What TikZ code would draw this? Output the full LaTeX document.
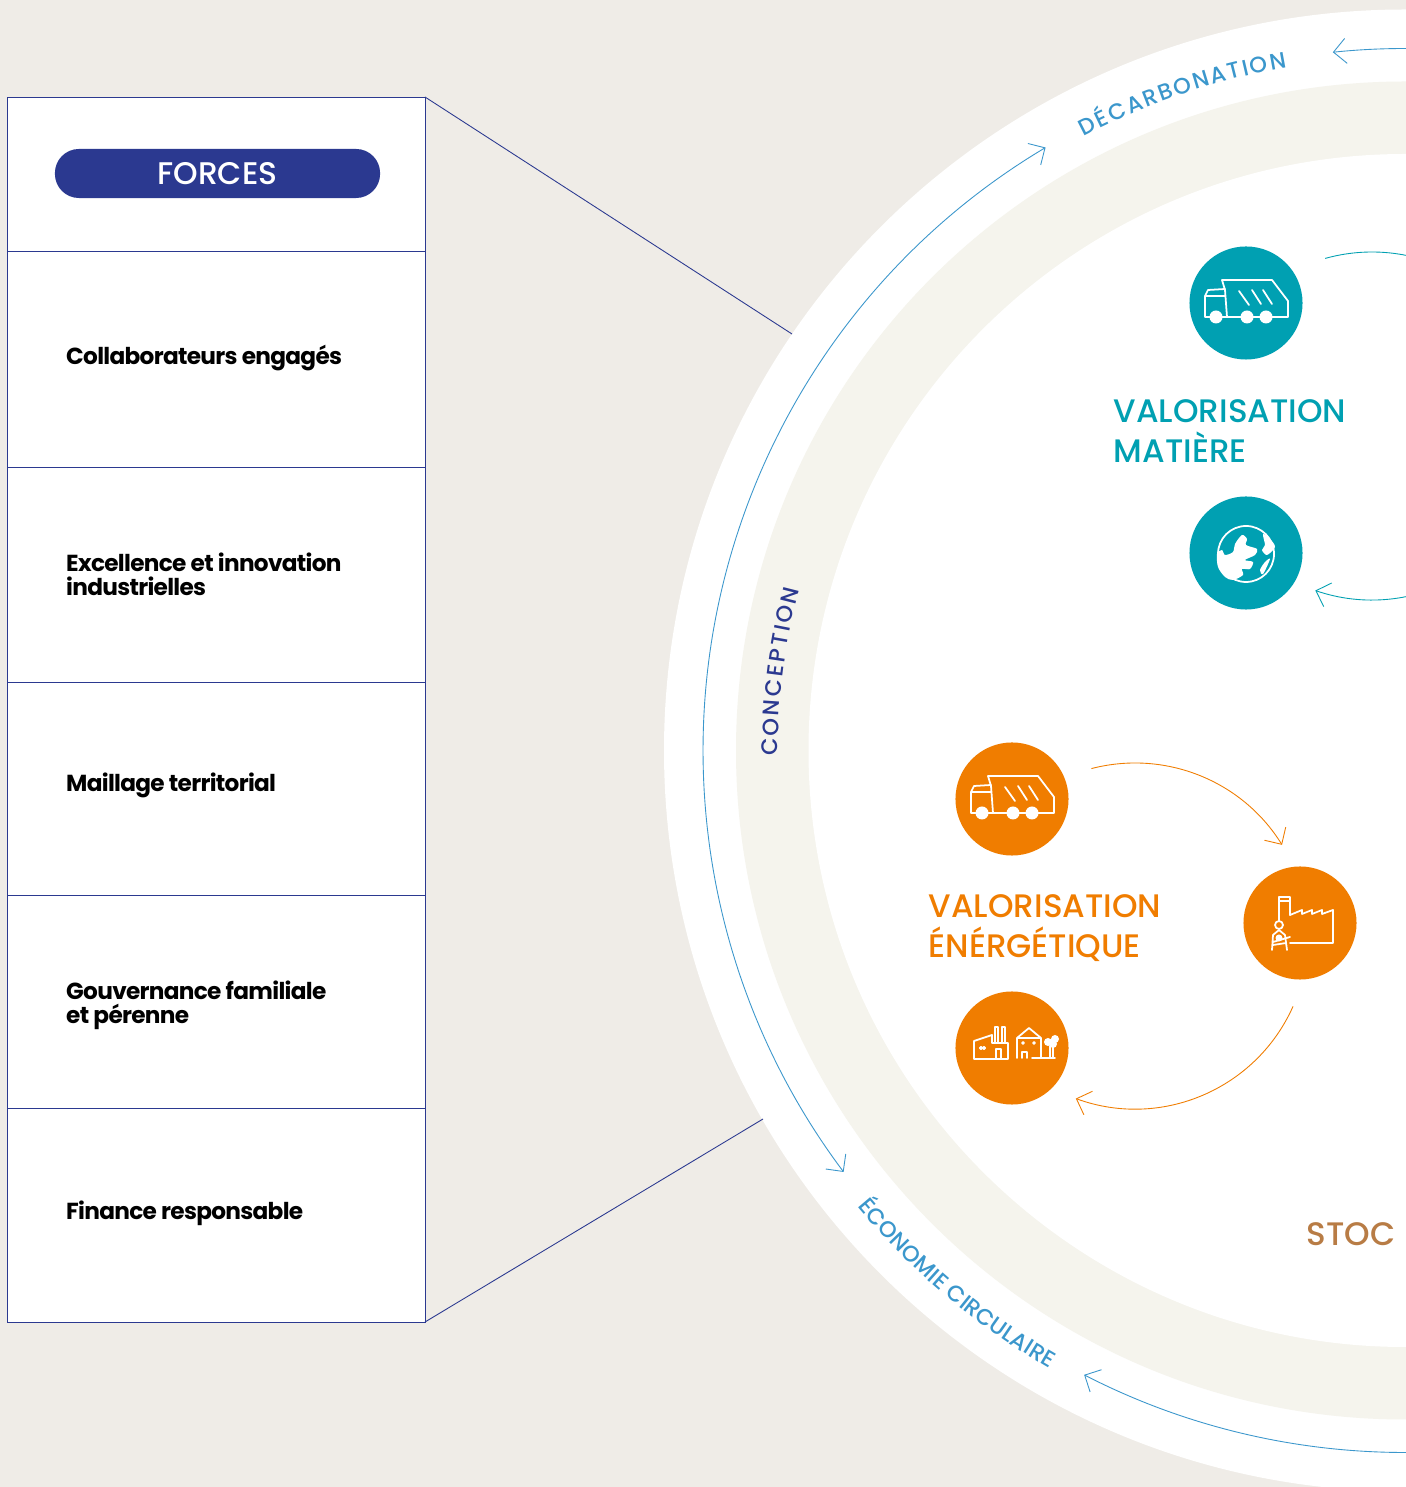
\documentclass[tikz,border=0pt]{standalone}
\usepackage{fontspec}
\setmainfont{Poppins}
\newfontfamily\mediumfont{Poppins Medium}
\newfontfamily\cellface[LetterSpace=-3]{Poppins}
\usetikzlibrary{arrows.meta, decorations.text}
\definecolor{bgcol}{HTML}{EFECE7}
\definecolor{ringcol}{HTML}{F5F4ED}
\definecolor{navycol}{HTML}{2B3990}
\definecolor{bluecol}{HTML}{3B97CC}
\definecolor{tealcol}{HTML}{00A0B2}
\definecolor{orangecol}{HTML}{F07D00}
\definecolor{browncol}{HTML}{B87C45}
\tikzset{
    >={Straight Barb[length=1.25mm,width=2.5mm]},
    cellbox/.style={draw=navycol, line width=0.25pt, fill=white},
    cellfont/.style={anchor=west, align=left, inner sep=0, font=\cellface\fontsize{6.6}{6.85}\selectfont\bfseries},
    bigfont/.style={anchor=west, align=left, inner sep=0, font=\mediumfont\fontsize{9.25}{11.38}\selectfont},
    iconcircle/.style={circle, minimum size=1.13cm, inner sep=0},
    iconline/.style={draw=white, line width=0.5pt, line join=round, line cap=round},
    thinarc/.style={line width=0.25pt},
    curvedtext/.style={decorate, decoration={text along path, text={#1}, text align={fit to path}}},
    pics/truckicon/.style={code={
        \draw[iconline] (-24,23)--(26,23)--(42,2)--(42,-14)--(-19,-14)--(-21,13)--cycle;
        \draw[iconline] (-21,14)--(-38,13)--(-41,7)--(-41,-14)--(-19,-14) (-41,7)--(-21,7);
        \draw[iconline] (-7,12)--(3,-2) (6,13)--(15,-1) (17,13)--(26,-1);
        \foreach \x in {-30,1,20} {
            \fill[white] (\x,-14) circle (6.5);
        }
    }},
    pics/globeicon/.style={code={
        \draw[iconline] (0,-1) circle (28);
        \fill[white] plot[smooth cycle] coordinates {(-4,18) (1,14) (0,8) (11,4) (9,-2) (-1,-7) (7,-9) (4,-16) (-4,-16) (-3,-22) (-13,-27) (-21,-24) (-28,-14) (-29,-1) (-24,3) (-21,-2) (-13,1) (-11,9)};
        \fill[white] plot[smooth cycle] coordinates {(17,19) (24,14) (29,6) (21,-2) (16,3) (19,8)};
        \fill[white] plot[smooth cycle] coordinates {(24,-6) (17,-21) (14,-17) (19,-9)};
    }},
    pics/plantworkericon/.style={code={
        \draw[iconline] (-21,2)--(-21,26)--(-10,26)--(-10,8) (-21,22)--(-10,22);
        \draw[iconline] (-10,8)--(2,13)--(2,9)--(12,13)--(12,9)--(22,13)--(22,9)--(33,13)--(33,-20)--(-10,-20);
        \draw[iconline] (-21,-2) circle (4);
        \draw[iconline] (-28,-27)--(-27,-12)--(-21,-7)--(-15,-12)--(-13,-27) (-27,-19)--(-10,-14) (-27,-22)--(-14,-20);
        \fill[white] (-21,-15) circle (3.5);
    }},
    pics/townicon/.style={code={
        \draw[iconline] (-38,-11)--(-38,7)--(-20,13)--(-20,5)--(-4,5)--(-4,-11)--cycle;
        \draw[iconline] (-16,-11)--(-16,-1)--(-11,-1)--(-11,-11);
        \draw[iconline] (-17,5)--(-17,21)--(-14,21)--(-14,5) (-10,5)--(-10,21)--(-7,21)--(-7,5);
        \draw[iconline] (-31,0) circle (1.2) (-28,0) circle (1.2);
        \draw[iconline] (5,-10)--(5,10)--(17,20)--(29,10)--(29,-10)--(43,-10) (20,-10)--(29,-10) (5,10)--(29,10);
        \draw[iconline] (10,-10)--(10,-4)--(15,-4)--(15,-10);
        \draw[iconline] (11,5) circle (1) (22,5) circle (1);
        \draw[iconline] (38,-10)--(38,2) (41,-10)--(41,2);
        \fill[white] (36,6) circle (4) (43,9) circle (4) (41,4) circle (4);
    }},
}

\begin{document}
\begin{tikzpicture}[x=0.01cm, y=0.01cm]
    \useasboundingbox (0,0) rectangle (1406,1487);
    \clip (0,0) rectangle (1406,1487);
    \fill[bgcol] (0,0) rectangle (1406,1487);

    \coordinate (hub) at (1405,736.5);
    \fill[white] (hub) circle (741);
    \fill[ringcol] (hub) circle (669);
    \fill[white] (hub) circle (596.5);

    % big circle arrows
    \draw[<->, bluecol, thinarc] (hub) ++(120.8:702) arc (120.8:216.9:702);
    \draw[->, bluecol, thinarc] (hub) ++(85:702) arc (85:95.9:702);
    \draw[<-, bluecol, thinarc] (hub) ++(242.8:702) arc (242.8:275:702);

    \path[curvedtext={|\mediumfont\fontsize{6.4}{7}\selectfont\color{bluecol}|DÉCARBONATION}] (hub) ++(117.6:693) arc (117.6:99.8:693);
    \path[curvedtext={|\mediumfont\fontsize{6.4}{7}\selectfont\color{navycol}|CONCEPTION}] (hub) ++(180.5:627) arc (180.5:165.1:627);
    \path[curvedtext={|\mediumfont\fontsize{6.4}{7}\selectfont\color{bluecol}|ÉCONOMIE CIRCULAIRE}] (hub) ++(219.8:713) arc (219.8:240.1:713);

    % table
    \foreach \i/\a/\b in {0/1236/1390, 1/1020/1236, 2/805/1020, 3/592/805, 4/379/592, 5/165/379} {
        \draw[cellbox] (7,\a) rectangle (425,\b);
    }
    \coordinate (topcorner) at (425,1390);
    \coordinate (botcorner) at (425,165);
    \coordinate (toptouch) at (792,1153);
    \coordinate (bottouch) at (763,368);
    \draw[navycol, line width=0.25pt] (topcorner) -- (toptouch) (botcorner) -- (bottouch);

    \node[fill=navycol, text=white, minimum width=3.25cm, minimum height=0.49cm, inner sep=0, rounded corners=2.4mm, font=\mediumfont\fontsize{8.9}{10}\selectfont] (forces) at (217.5,1313.5) {FORCES};

    \node[cellfont] (engaged) at (65.5,1129) {Collaborateurs engagés};
    \node[cellfont] (innov) at (65.5,913) {Excellence et innovation\\industrielles};
    \node[cellfont] (mesh) at (65.5,702) {Maillage territorial};
    \node[cellfont] (family) at (65.5,482) {Gouvernance familiale\\et pérenne};
    \node[cellfont] (finance) at (65.5,274) {Finance responsable};

    % matiere
    \node[iconcircle, fill=tealcol] (truckteal) at (1246,1184) {};
    \node[iconcircle, fill=tealcol] (globe) at (1246,934) {};
    \pic at (truckteal) {truckicon};
    \pic at (globe) {globeicon};
    \node[bigfont, text=tealcol] (matiere) at (1113,1056) {VALORISATION\\MATIÈRE};
    \coordinate (tealhub) at (1372,1061);
    \draw[tealcol, thinarc] (tealhub) ++(105.6:174) arc (105.6:70:174);
    \draw[->, tealcol, thinarc] (tealhub) ++(300:174) arc (300:251:174);

    % energie
    \node[iconcircle, fill=orangecol] (truckorange) at (1012,688) {};
    \node[iconcircle, fill=orangecol] (plant) at (1300,564) {};
    \node[iconcircle, fill=orangecol] (town) at (1012,439) {};
    \pic at (truckorange) {truckicon};
    \pic at (plant) {plantworkericon};
    \pic at (town) {townicon};
    \node[bigfont, text=orangecol] (energie) at (928,559) {VALORISATION\\ÉNÉRGÉTIQUE};
    \coordinate (orangehub) at (1135,551);
    \draw[->, orangecol, thinarc] (orangehub) ++(104.6:173) arc (104.6:31.8:173);
    \draw[->, orangecol, thinarc] (orangehub) ++(-24:173) arc (-24:-110:173);

    \node[bigfont, text=browncol] (stoc) at (1306,253) {STOC};
\end{tikzpicture}
\end{document}
